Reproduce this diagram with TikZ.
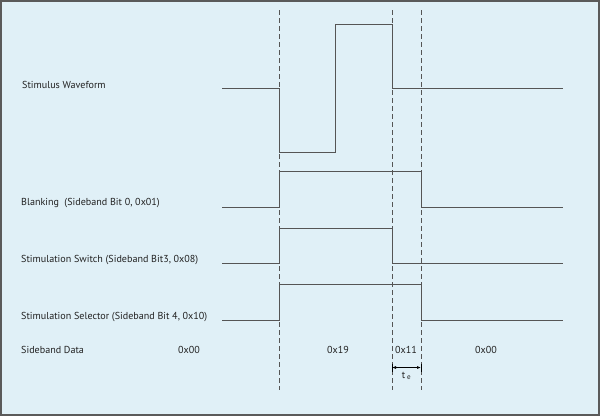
\documentclass[tikz,border=0pt]{standalone}
\usepackage{fontspec}
\setmainfont{PT Sans}
\usetikzlibrary{arrows.meta}
\definecolor{bgblue}{HTML}{E0F0F7}
\definecolor{wave}{HTML}{555555}
\definecolor{frame}{HTML}{5A5A5A}
\definecolor{txt}{HTML}{222222}
\tikzset{
  lbl/.style={anchor=west, inner sep=0pt, font=\fontsize{10.1}{11}\selectfont, text=txt},
  val/.style={inner sep=0pt, font=\fontsize{10.1}{11}\selectfont, text=txt},
  wv/.style={draw=wave, line width=0.9pt},
  guide/.style={draw=wave, line width=0.8pt, dash pattern=on 5pt off 3pt},
  dim/.style={draw=black, line width=0.7pt, {Latex[length=4pt,width=3pt]}-{Latex[length=4pt,width=3pt]}},
  tick/.style={draw=black, line width=0.7pt}
}
\begin{document}
\begin{tikzpicture}[x=1pt,y=-1pt]
\useasboundingbox (0,0) rectangle (600,416);
\fill[bgblue] (0,0) rectangle (600,416);
\draw[frame, line width=1.6pt] (0.8,0.8) rectangle (599.2,415.2);

% guide lines
\coordinate (g1t) at (279,10); \coordinate (g1b) at (279,390);
\coordinate (g2t) at (392,10); \coordinate (g2b) at (392,390);
\coordinate (g3t) at (421,10); \coordinate (g3b) at (421,390);
\draw[guide] (g1t) -- (g1b);
\draw[guide] (g2t) -- (g2b);
\draw[guide] (g3t) -- (g3b);

% labels
\node[lbl] (l1) at (22,85) {Stimulus Waveform};
\node[lbl] (l2) at (21,203) {Blanking\ \ (Sideband Bit 0, 0x01)};
\node[lbl] (l3) at (21,260.5) {Stimulation Switch (Sideband Bit3, 0x08)};
\node[lbl] (l4) at (21,317) {Stimulation Selector (Sideband Bit 4, 0x10)};
\node[lbl] (l5) at (21,350) {Sideband Data};
\node[val] (d0) at (189,350) {0x00};
\node[val] (d1) at (338,350) {0x19};
\node[val] (d2) at (406,350) {0x11};
\node[val] (d3) at (486,350) {0x00};

% stimulus waveform
\coordinate (s0) at (222,88);
\coordinate (s1) at (563,88);
\draw[wv] (s0) -- (279,88) -- (279,152) -- (335.5,152) -- (335.5,24) -- (392,24) -- (392,88) -- (s1);

% blanking
\coordinate (b0) at (222,207);
\coordinate (b1) at (563,207);
\draw[wv] (b0) -- (279,207) -- (279,171) -- (421,171) -- (421,207) -- (b1);

% stimulation switch
\coordinate (w0) at (222,263.5);
\coordinate (w1) at (563,263.5);
\draw[wv] (w0) -- (279,263.5) -- (279,228) -- (392,228) -- (392,263.5) -- (w1);

% stimulation selector
\coordinate (e0) at (222,320);
\coordinate (e1) at (563,320);
\draw[wv] (e0) -- (279,320) -- (279,284.5) -- (421,284.5) -- (421,320) -- (e1);

% t_e dimension
\coordinate (ta) at (392,367.5);
\coordinate (tb) at (421,367.5);
\draw[tick] (392,363.5) -- (392,371.5);
\draw[tick] (421,363.5) -- (421,371.5);
\draw[dim] (ta) -- (tb);
\node[val] (te) at (406.5,376) {t\,\textsubscript{e}};
\end{tikzpicture}
\end{document}
